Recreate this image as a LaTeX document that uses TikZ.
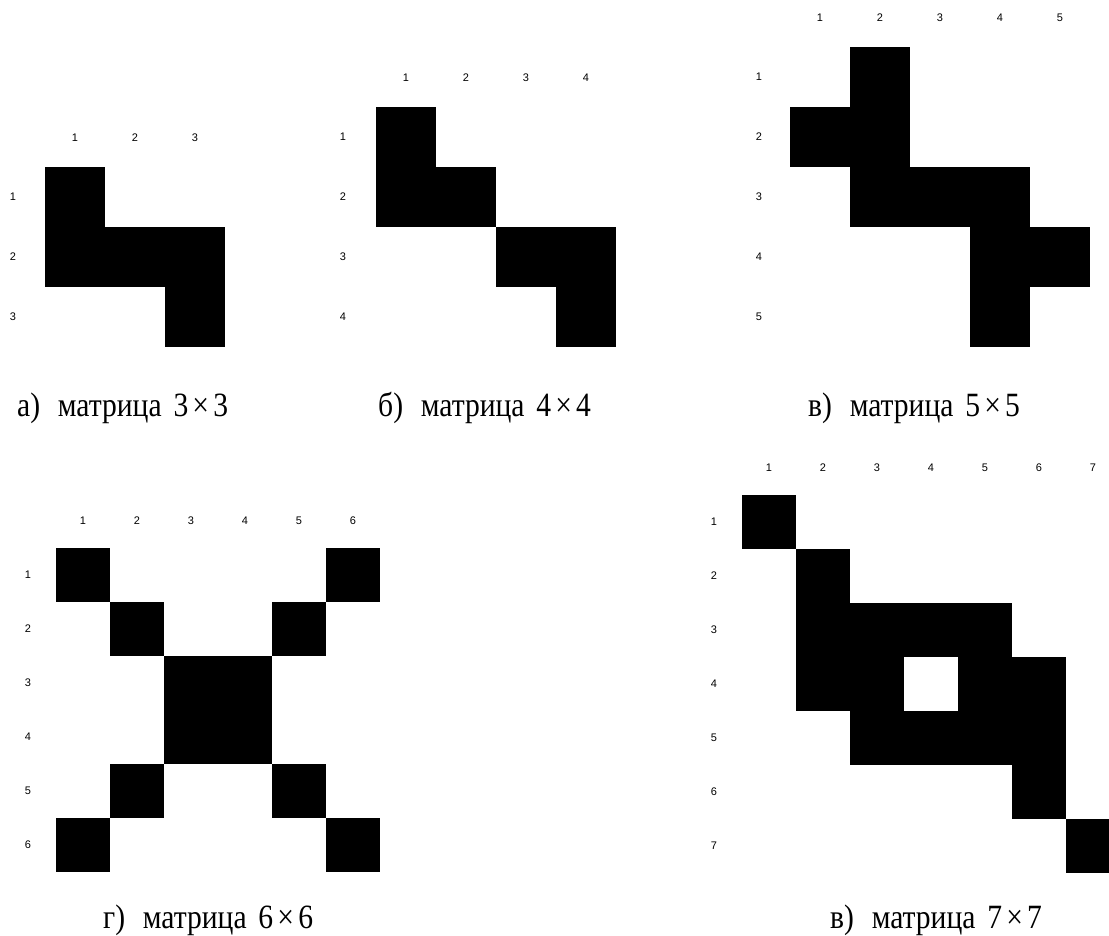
\documentclass[tikz,border=0pt]{standalone}
\usepackage{graphicx}
\usepackage{fontspec}
\setmainfont{Liberation Serif}
\newfontfamily\labfont{Liberation Sans}
\newcommand{\mtx}[8]{%
  % #1 name, #2 x0, #3 y0, #4 cell, #5 n, #6 filled r/c list, #7 col-label dy, #8 row-label dx
  \foreach \rr/\cc in {#6}
    \fill[cellfill] ({#2+(\cc-1)*#4-0.2},{#3+(\rr-1)*#4-0.2}) rectangle +({#4+0.4},{#4+0.4});
  \foreach \i in {1,...,#5}{%
    \node[lab] (#1c\i) at ({#2+(\i-0.5)*#4},{#3-#7}) {\i};
    \node[lab] (#1r\i) at ({#2-#8},{#3+(\i-0.5)*#4}) {\i};
  }%
}
\newcommand{\captxt}[2]{\scalebox{0.87}[1]{#1\hspace{0.6em}матрица\hspace{0.4em}#2\kern0.14em×\kern0.14em#2}}
\begin{document}
\begin{tikzpicture}[x=1pt,y=-1pt,
  cellfill/.style={fill=black},
  lab/.style={font=\labfont\fontsize{11}{11}\selectfont,inner sep=0pt},
  captext/.style={font=\fontsize{34}{34}\selectfont,anchor=base west,inner sep=0pt}]
\useasboundingbox (0,0) rectangle (1109,936);
\clip (0,0) rectangle (1109,936);
% a) 3x3
\mtx{a}{45}{167}{60}{3}{1/1,2/1,2/2,2/3,3/3}{29}{32}
% b) 4x4
\mtx{b}{376}{107}{60}{4}{1/1,2/1,2/2,3/3,3/4,4/4}{29}{33}
% v) 5x5
\mtx{v}{790}{47}{60}{5}{1/2,2/1,2/2,3/2,3/3,3/4,4/4,4/5,5/4}{29}{31}
% g) 6x6
\mtx{g}{56}{548}{54}{6}{1/1,1/6,2/2,2/5,3/3,3/4,4/3,4/4,5/2,5/5,6/1,6/6}{27}{28}
% 7x7
\mtx{h}{742}{495}{54}{7}{1/1,2/2,3/2,3/3,3/4,3/5,4/2,4/3,4/5,4/6,5/3,5/4,5/5,5/6,6/6,7/7}{27}{28}
% captions
\node[captext] (capa) at (17,416) {\captxt{а)}{3}};
\node[captext] (capb) at (378,416) {\captxt{б)}{4}};
\node[captext] (capv) at (808,416) {\captxt{в)}{5}};
\node[captext] (capg) at (103,928) {\captxt{г)}{6}};
\node[captext] (caph) at (830,928) {\captxt{в)}{7}};
\end{tikzpicture}
\end{document}
